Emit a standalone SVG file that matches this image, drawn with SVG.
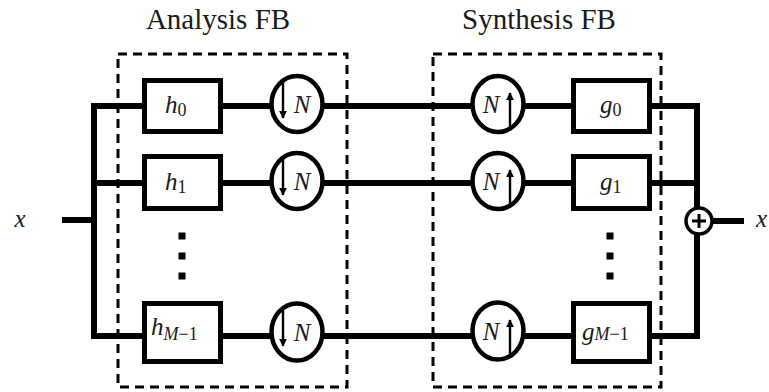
<svg xmlns="http://www.w3.org/2000/svg" width="769" height="392" viewBox="0 0 769 392">
<style>
.dash{fill:none;stroke:#000;stroke-width:3;stroke-dasharray:9 6}
.wire{fill:none;stroke:#000;stroke-width:6}
.box{fill:#fff;stroke:#000;stroke-width:5}
.circ{fill:#fff;stroke:#000;stroke-width:4.5}
.arr{stroke:#000;stroke-width:2.4;fill:none}
.dot{fill:#000}
</style>
<defs>
<marker id="ah" viewBox="0 0 10 10" refX="9" refY="5" markerWidth="8" markerHeight="8" markerUnits="userSpaceOnUse" orient="auto">
<path d="M0,0 L10,5 L0,10 Z" fill="#000"/>
</marker>
</defs>
<rect width="769" height="392" fill="#fff"/>
<g font-family="Liberation Serif, serif" fill="#1a1a1a">
<text x="218" y="29" font-size="29" text-anchor="middle">Analysis FB</text>
<text x="539" y="29" font-size="29" text-anchor="middle">Synthesis FB</text>
</g>
<rect class="dash" x="118" y="54" width="229" height="333"/>
<rect class="dash" x="433" y="54" width="228" height="333"/>
<g id="connectors">
<path class="wire" d="M62,220 H94"/>
<path class="wire" d="M94,103 V339"/>
<path class="wire" d="M91,106 H697"/>
<path class="wire" d="M91,183 H697"/>
<path class="wire" d="M91,336 H697"/>
<path class="wire" d="M697,103 V339"/>
<path class="wire" d="M699,221 H744"/>
</g>
<g font-family="Liberation Serif, serif" font-style="italic" font-size="25" fill="#1a1a1a">
<g id="input"><text x="20" y="227" text-anchor="middle">x</text></g>
<g id="output"><text x="756" y="227">x</text></g>
<g id="h0"><rect class="box" x="144.5" y="80.5" width="76" height="51"/><text x="165" y="113">h<tspan font-style="normal" font-size="18" dy="3">0</tspan></text></g>
<g id="h1"><rect class="box" x="144.5" y="156.5" width="76" height="52"/><text x="165" y="190">h<tspan font-style="normal" font-size="18" dy="3">1</tspan></text></g>
<g id="hM"><rect class="box" x="144.5" y="303.5" width="76" height="58"/><text x="151" y="335">h<tspan font-size="18" dy="5">M</tspan><tspan font-style="normal" font-size="18">−1</tspan></text></g>
<g id="d0"><ellipse class="circ" cx="297" cy="104" rx="25.5" ry="28"/><path class="arr" d="M283,82 V118" marker-end="url(#ah)"/><text x="302" y="113" text-anchor="middle">N</text></g>
<g id="d1"><ellipse class="circ" cx="297" cy="181" rx="25.5" ry="28"/><path class="arr" d="M283,159 V195" marker-end="url(#ah)"/><text x="302" y="190" text-anchor="middle">N</text></g>
<g id="dM"><ellipse class="circ" cx="297" cy="332" rx="25.5" ry="28.5"/><path class="arr" d="M283,310 V346" marker-end="url(#ah)"/><text x="302" y="341" text-anchor="middle">N</text></g>
<g id="u0"><ellipse class="circ" cx="498" cy="104" rx="25.5" ry="28"/><path class="arr" d="M510,131 V93" marker-end="url(#ah)"/><text x="491" y="113" text-anchor="middle">N</text></g>
<g id="u1"><ellipse class="circ" cx="498" cy="181" rx="25.5" ry="28"/><path class="arr" d="M510,208 V170" marker-end="url(#ah)"/><text x="491" y="190" text-anchor="middle">N</text></g>
<g id="uM"><ellipse class="circ" cx="498" cy="331" rx="25.5" ry="28.5"/><path class="arr" d="M510,358 V320" marker-end="url(#ah)"/><text x="491" y="340" text-anchor="middle">N</text></g>
<g id="g0"><rect class="box" x="573.5" y="80.5" width="76" height="51"/><text x="600" y="113">g<tspan font-style="normal" font-size="18" dy="3">0</tspan></text></g>
<g id="g1"><rect class="box" x="573.5" y="156.5" width="76" height="52"/><text x="600" y="190">g<tspan font-style="normal" font-size="18" dy="3">1</tspan></text></g>
<g id="gM"><rect class="box" x="573.5" y="303.5" width="76" height="58"/><text x="582" y="340">g<tspan font-size="18">M</tspan><tspan font-style="normal" font-size="18">−1</tspan></text></g>
</g>
<g id="sum"><circle cx="699" cy="221" r="13" fill="#fff" stroke="#000" stroke-width="3.5"/><path d="M699,214 V228 M692,221 H706" stroke="#000" stroke-width="3"/></g>
<g id="dots">
<rect class="dot" x="178.5" y="232.5" width="7" height="7"/>
<rect class="dot" x="178.5" y="252.5" width="7" height="7"/>
<rect class="dot" x="178.5" y="272.5" width="7" height="7"/>
<rect class="dot" x="606.5" y="232.5" width="7" height="7"/>
<rect class="dot" x="606.5" y="252.5" width="7" height="7"/>
<rect class="dot" x="606.5" y="272.5" width="7" height="7"/>
</g>
</svg>
